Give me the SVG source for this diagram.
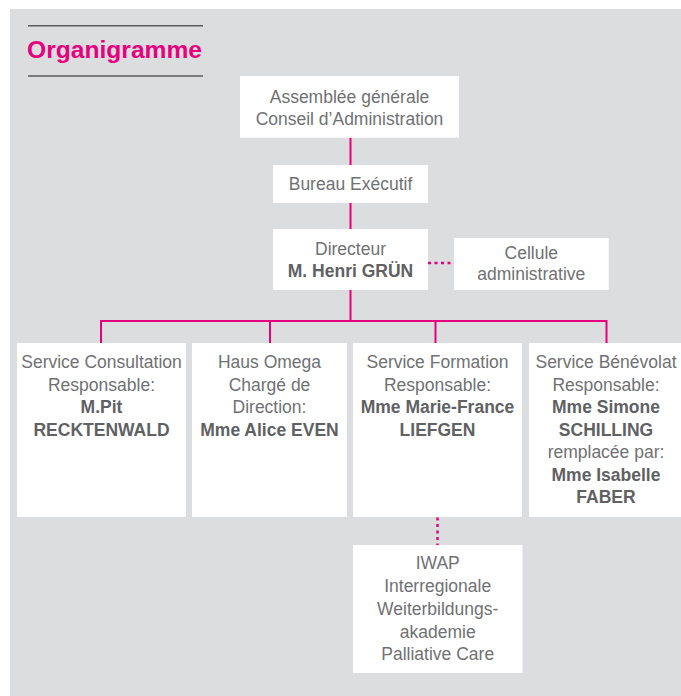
<svg xmlns="http://www.w3.org/2000/svg" width="681" height="696" viewBox="0 0 681 696">
<style>
.box{fill:#ffffff}
.t{font-family:"Liberation Sans",Arial,sans-serif;font-size:17.5px;fill:#707173;text-anchor:middle}
.b{font-weight:bold;fill:#606163}
.ln{stroke:#e6007e;stroke-width:2;fill:none}
.dot{stroke:#e6007e;stroke-width:2.5;fill:none;stroke-dasharray:3 3.5}
</style>
<rect x="10" y="9" width="671" height="687" fill="#dcdddf"/>
<g id="title">
<line x1="28" y1="25.7" x2="203" y2="25.7" stroke="#5a5b5d" stroke-width="1.5"/>
<text x="27" y="58.3" font-family="'Liberation Sans',Arial,sans-serif" font-size="23.5" font-weight="bold" fill="#e6007e" textLength="175" lengthAdjust="spacingAndGlyphs">Organigramme</text>
<line x1="28" y1="76" x2="203" y2="76" stroke="#5a5b5d" stroke-width="1.5"/>
</g>
<g id="connectors">
<path class="ln" d="M350.5 137.7V165M350.5 203V229M350.5 290V321M101 343V321H606.5V343M270 321V343M435.5 321V343"/>
<path class="dot" d="M428 263H454"/>
<path class="dot" d="M437.5 517.5V545"/>
</g>
<g id="assemblee">
<rect class="box" x="240" y="76" width="219" height="61.7"/>
<text class="t" x="349.5" y="102.7">Assemblée générale</text>
<text class="t" x="349.5" y="125">Conseil d’Administration</text>
</g>
<g id="bureau">
<rect class="box" x="273" y="165" width="155" height="38"/>
<text class="t" x="350.5" y="190">Bureau Exécutif</text>
</g>
<g id="directeur">
<rect class="box" x="273" y="229" width="155" height="61"/>
<text class="t" x="350.5" y="255">Directeur</text>
<text class="t b" x="350.5" y="276.7">M. Henri GRÜN</text>
</g>
<g id="cellule">
<rect class="box" x="454" y="238" width="154.7" height="52"/>
<text class="t" x="531.3" y="259">Cellule</text>
<text class="t" x="531.3" y="280">administrative</text>
</g>
<g id="consultation">
<rect class="box" x="17" y="343" width="169" height="174"/>
<text class="t" x="101.5" y="368.3">Service Consultation</text>
<text class="t" x="101.5" y="390.8">Responsable:</text>
<text class="t b" x="101.5" y="413.3">M.Pit</text>
<text class="t b" x="101.5" y="435.8">RECKTENWALD</text>
</g>
<g id="omega">
<rect class="box" x="192" y="343" width="155" height="174"/>
<text class="t" x="269.5" y="368.3">Haus Omega</text>
<text class="t" x="269.5" y="390.8">Chargé de</text>
<text class="t" x="269.5" y="413.3">Direction:</text>
<text class="t b" x="269.5" y="435.8">Mme Alice EVEN</text>
</g>
<g id="formation">
<rect class="box" x="353" y="343" width="169" height="174"/>
<text class="t" x="437.5" y="368.3">Service Formation</text>
<text class="t" x="437.5" y="390.8">Responsable:</text>
<text class="t b" x="437.5" y="413.3">Mme Marie-France</text>
<text class="t b" x="437.5" y="435.8">LIEFGEN</text>
</g>
<g id="benevolat">
<rect class="box" x="529" y="343" width="152" height="174"/>
<text class="t" x="606" y="368.3">Service Bénévolat</text>
<text class="t" x="606" y="390.8">Responsable:</text>
<text class="t b" x="606" y="413.3">Mme Simone</text>
<text class="t b" x="606" y="435.8">SCHILLING</text>
<text class="t" x="606" y="458.3">remplacée par:</text>
<text class="t b" x="606" y="480.8">Mme Isabelle</text>
<text class="t b" x="606" y="503.3">FABER</text>
</g>
<g id="iwap">
<rect class="box" x="353" y="545" width="169.5" height="128"/>
<text class="t" x="437.7" y="569.3">IWAP</text>
<text class="t" x="437.7" y="592.2">Interregionale</text>
<text class="t" x="437.7" y="615">Weiterbildungs-</text>
<text class="t" x="437.7" y="637.7">akademie</text>
<text class="t" x="437.7" y="660.3">Palliative Care</text>
</g>
</svg>
